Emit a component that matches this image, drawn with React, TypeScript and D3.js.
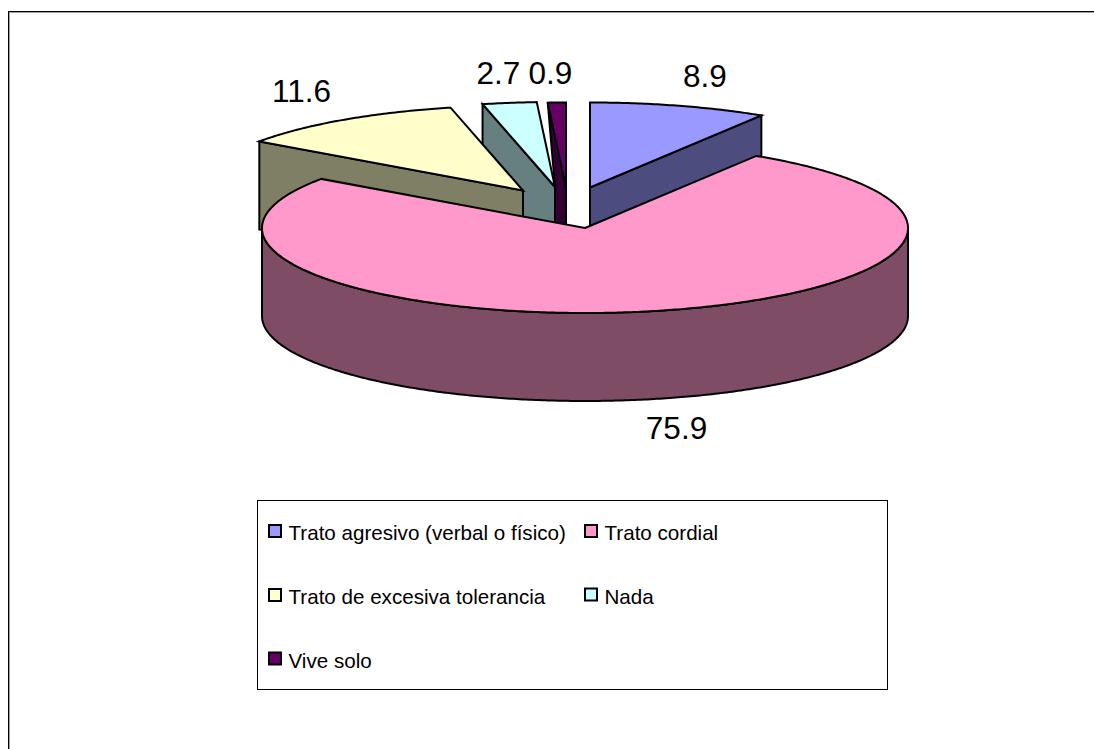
import React from "react";
import * as d3 from "d3";

const categories = [
  "Trato agresivo (verbal o físico)",
  "Trato cordial",
  "Trato de excesiva tolerancia",
  "Nada",
  "Vive solo",
];
const values = [8.9, 75.9, 11.6, 2.7, 0.9];
const topColors = ["#9999FF", "#FF99CC", "#FFFFCC", "#CCFFFF", "#660066"];
const sideColors = ["#4C4C7F", "#7F4C66", "#7F7F66", "#667F7F", "#330033"];
// Apex of each exploded slice on the page.
const apexX = [590, 585, 523, 555, 566];
const apexY = [187.5, 228, 190.5, 187, 187.5];
const labelX = [705, 676.5, 301.5, 498.5, 550.5];
const labelY = [87, 439, 102, 84, 84];
const legendX = [269, 585, 269, 585, 269];
const legendY = [531, 531, 595, 594.5, 658.5];

const RX = 323;
const RY = 85;
const DEPTH = 88;
const FONT = "'Liberation Sans', Arial, sans-serif";

const slices = d3.pie<number>().sort(null)(values);

const rim = (i: number, a: number): [number, number] => [
  apexX[i] + RX * Math.sin(a),
  apexY[i] - RY * Math.cos(a),
];
const line = d3.line();
const arcPoints = (i: number, a0: number, a1: number): [number, number][] => {
  const n = Math.max(2, Math.ceil(Math.abs(a1 - a0) / 0.01));
  return d3.range(n + 1).map((k) => rim(i, a0 + ((a1 - a0) * k) / n));
};
const down = (p: [number, number]): [number, number] => [p[0], p[1] + DEPTH];

const topPath = (i: number) => {
  const s = slices[i];
  return (
    line([[apexX[i], apexY[i]], ...arcPoints(i, s.startAngle, s.endAngle)]) + "Z"
  );
};

// Cut wall on the near-left side of a back slice, seen from apex to rim.
const wallPath = (i: number) => {
  const s = slices[i];
  const r = rim(i, s.startAngle);
  const a: [number, number] = [apexX[i], apexY[i]];
  return line([r, a, down(a), down(r)]) + "Z";
};

// The thin last slice shows its wall only up to the neighbouring slice's apex.
const thinWallPath = (i: number, neighbour: number) => {
  const s = slices[i];
  const r = rim(i, s.startAngle);
  const a: [number, number] = [apexX[i], apexY[i]];
  const n: [number, number] = [apexX[neighbour], apexY[neighbour]];
  return line([r, a, down(a), down(n), n]) + "Z";
};

// Outer wall of the large slice, along the near half of its ellipse.
const outerWallPath = (i: number) => {
  const front = arcPoints(i, Math.PI / 2, (3 * Math.PI) / 2);
  return line([...front, ...front.slice().reverse().map(down)]) + "Z";
};

const stroke = { stroke: "#000", strokeWidth: 2, strokeLinejoin: "miter" as const };

export default function App() {
  return (
    <svg
      width={1094}
      height={749}
      style={{ position: "fixed", left: 0, top: 0, background: "#fff" }}
      fontFamily={FONT}
    >
      {/* chart frame runs off the right and bottom of the page */}
      <rect x={9.5} y={12.5} width={1200} height={900} fill="none" stroke="#a0a0a0" />
      <rect x={8.5} y={11.5} width={1200} height={900} fill="none" stroke="#000" />

      {/* back slices first, the large slice last so it covers their walls */}
      <path d={thinWallPath(4, 3)} fill={sideColors[4]} {...stroke} />
      <path d={topPath(4)} fill={topColors[4]} {...stroke} />

      <path d={wallPath(3)} fill={sideColors[3]} {...stroke} />
      <path d={topPath(3)} fill={topColors[3]} {...stroke} />

      <path d={wallPath(2)} fill={sideColors[2]} {...stroke} />
      <path d={topPath(2)} fill={topColors[2]} {...stroke} />

      <path
        d={
          line([
            [apexX[0], apexY[0]],
            rim(0, slices[0].endAngle),
            down(rim(0, slices[0].endAngle)),
            down([apexX[0], apexY[0]]),
          ]) + "Z"
        }
        fill={sideColors[0]}
        {...stroke}
      />
      <path d={topPath(0)} fill={topColors[0]} {...stroke} />

      <path d={outerWallPath(1)} fill={sideColors[1]} {...stroke} />
      <path d={topPath(1)} fill={topColors[1]} {...stroke} />

      {values.map((v, i) => (
        <text
          key={i}
          x={labelX[i]}
          y={labelY[i]}
          fontSize={31.5}
          textAnchor="middle"
          fill="#000"
        >
          {v.toFixed(1)}
        </text>
      ))}

      <rect x={257.5} y={500.5} width={630} height={189} fill="#fff" stroke="#000" />
      {categories.map((c, i) => (
        <g key={c}>
          <rect
            x={legendX[i]}
            y={legendY[i] - 6}
            width={12}
            height={12}
            fill={topColors[i]}
            stroke="#000"
            strokeWidth={2}
          />
          <text
            x={legendX[i] + 19.5}
            y={legendY[i] + 9}
            fontSize={20.6}
            fill="#000"
          >
            {c}
          </text>
        </g>
      ))}
    </svg>
  );
}
